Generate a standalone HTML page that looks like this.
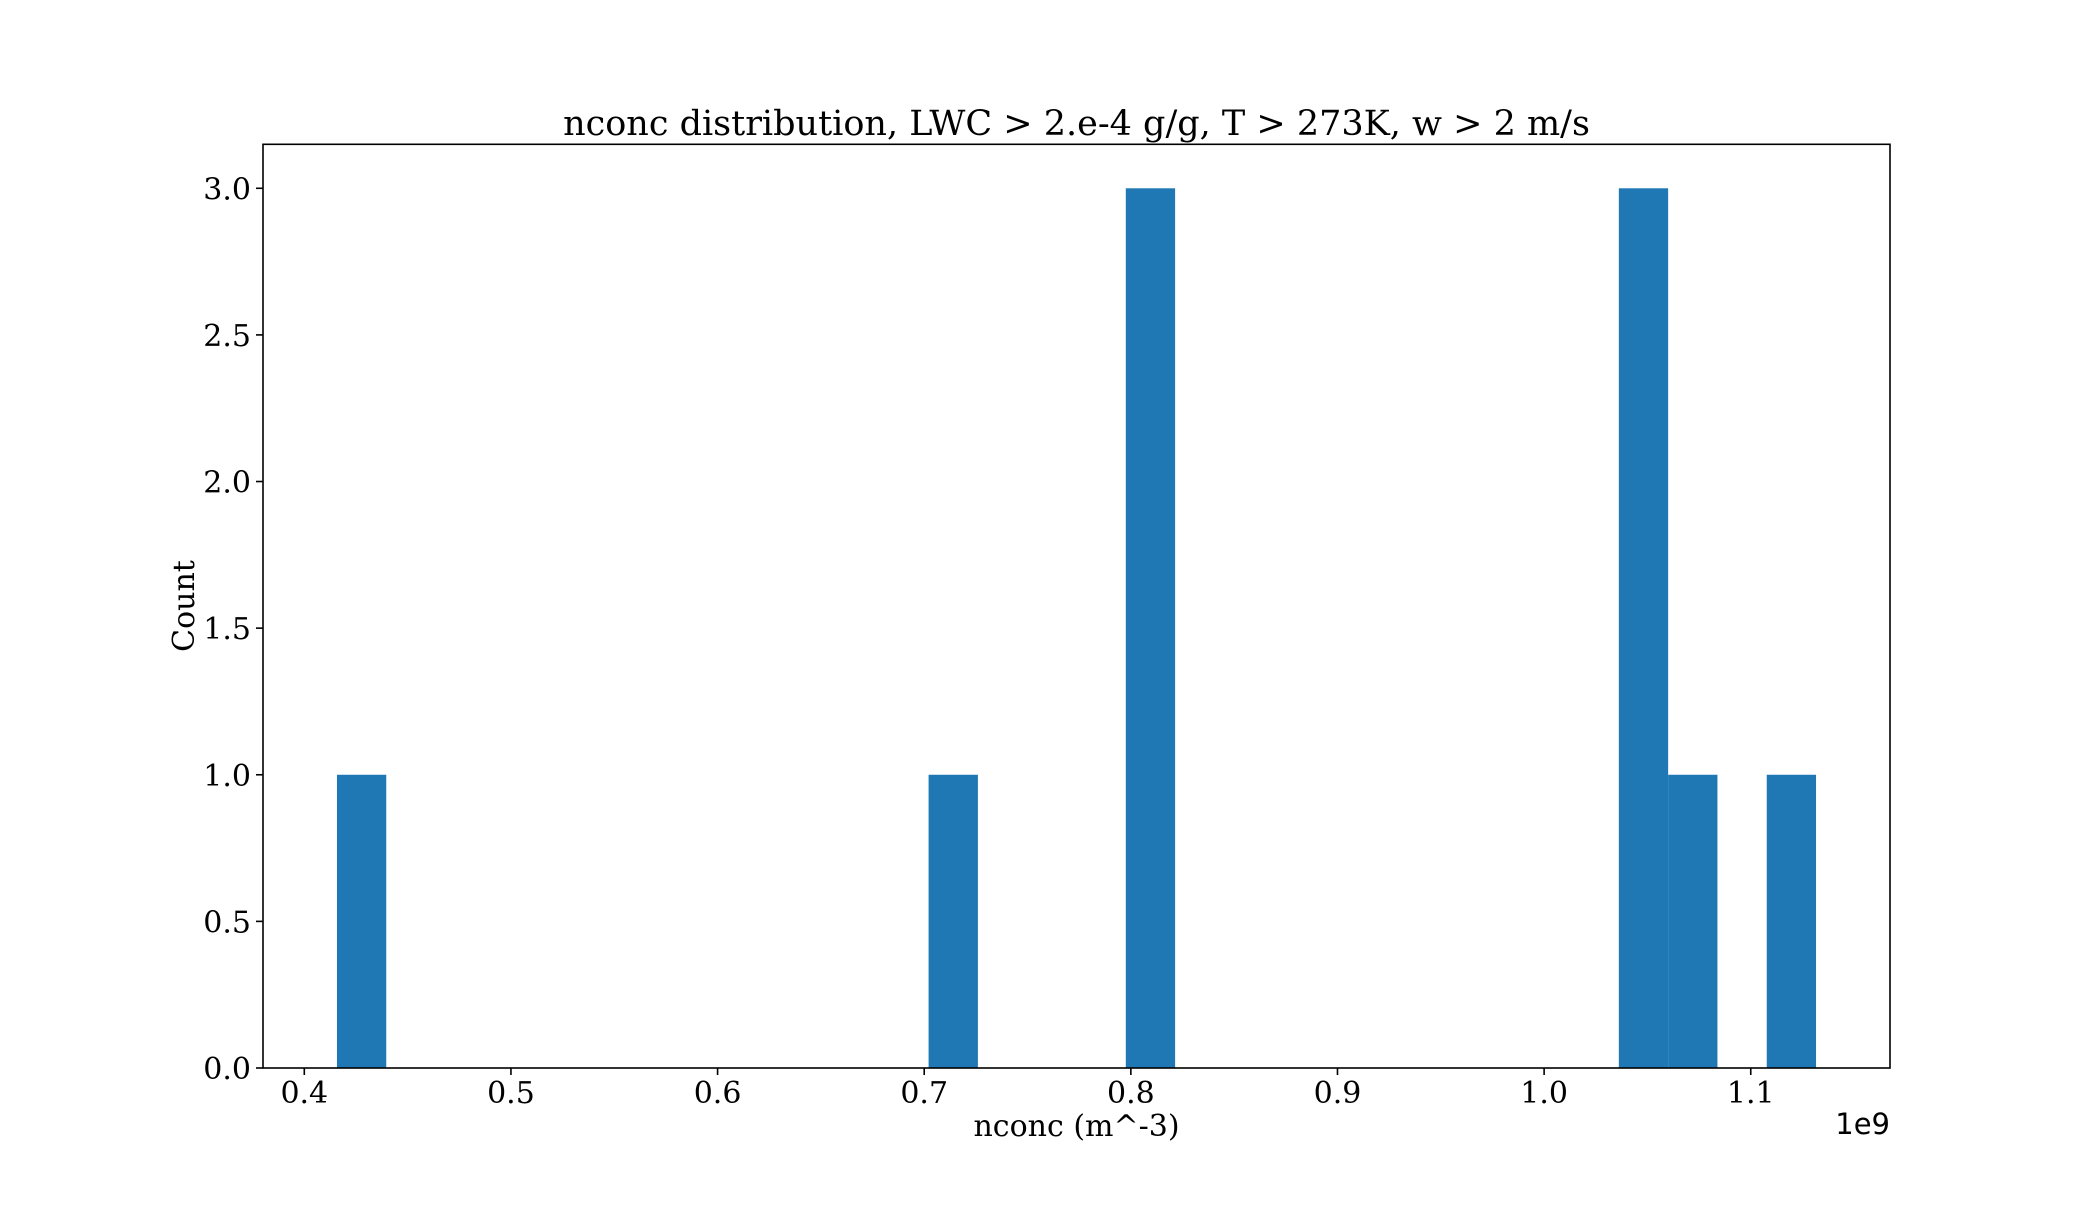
<!DOCTYPE html>
<html><head><meta charset="utf-8"><style>
html,body{margin:0;padding:0;background:#fff;}
svg text{font-family:"DejaVu Serif","Liberation Serif",serif;fill:#000;}
</style></head><body>
<svg id="chart" width="2100" height="1200" xmlns="http://www.w3.org/2000/svg">
<rect x="0" y="0" width="2100" height="1200" fill="#fff"/>
<text x="1076.5" y="135" font-size="35" text-anchor="middle">nconc distribution, LWC &gt; 2.e-4 g/g, T &gt; 273K, w &gt; 2 m/s</text>
<g id="bars"></g>
<g id="axes"></g>
<text x="1076.5" y="1150" font-size="30" text-anchor="middle" transform="translate(0,-14)">nconc (m^-3)</text>
<text x="0" y="0" font-size="30" text-anchor="middle" transform="translate(194,606) rotate(-90)">Count</text>
<text x="1890" y="1134" font-size="29" text-anchor="end" style="font-family:'DejaVu Sans','Liberation Sans',sans-serif">1e9</text>
</svg>
<script>
const binStart = 0.4158;
const binWidth = 0.02386;
const counts = [1,0,0,0,0,0,0,0,0,0,0,0,1,0,0,0,3,0,0,0,0,0,0,0,0,0,3,1,0,1];
const xTicks = [0.4,0.5,0.6,0.7,0.8,0.9,1.0,1.1];
const xTickLabels = ["0.4","0.5","0.6","0.7","0.8","0.9","1.0","1.1"];
const yTicks = [0,0.5,1,1.5,2,2.5,3];
const yTickLabels = ["0.0","0.5","1.0","1.5","2.0","2.5","3.0"];

const L=263,R=1890,T=144.3,B=1068;
const NS="http://www.w3.org/2000/svg";
const xmin=binStart, xmax=binStart+counts.length*binWidth, xpad=(xmax-xmin)*0.05;
const x0=xmin-xpad, x1=xmax+xpad;
const ymax=Math.max(...counts)*1.05;
const xs=v=>L+(v-x0)/(x1-x0)*(R-L);
const ys=v=>B-v/ymax*(B-T);
function mk(tag,attrs,parent){const e=document.createElementNS(NS,tag);for(const k in attrs)e.setAttribute(k,attrs[k]);parent.appendChild(e);return e;}
const bars=document.getElementById('bars'), axes=document.getElementById('axes');
counts.forEach((c,i)=>{
  if(c<=0)return;
  const a=xs(binStart+i*binWidth), b=xs(binStart+(i+1)*binWidth);
  const r=mk('rect',{x:a,y:ys(c),width:b-a,height:ys(0)-ys(c),fill:'#1f77b4'},bars);
  
  
});
const frame=mk('rect',{x:L,y:T,width:R-L,height:B-T,fill:'none',stroke:'#000','stroke-width':1.6},axes);


xTicks.forEach((v,i)=>{
  const x=xs(v);
  const t=mk('line',{x1:x,y1:B,x2:x,y2:B+7,stroke:'#000','stroke-width':1.6},axes);
  
  
  const tx=mk('text',{x:x,y:B+35,'font-size':30,'text-anchor':'middle'},axes);
  tx.textContent=xTickLabels[i];
  
  
});
yTicks.forEach((v,i)=>{
  const y=ys(v);
  const t=mk('line',{x1:L-7,y1:y,x2:L,y2:y,stroke:'#000','stroke-width':1.6},axes);
  
  
  const tx=mk('text',{x:L-12,y:y+11,'font-size':30,'text-anchor':'end'},axes);
  tx.textContent=yTickLabels[i];
  
  
});
</script>
</body></html>
